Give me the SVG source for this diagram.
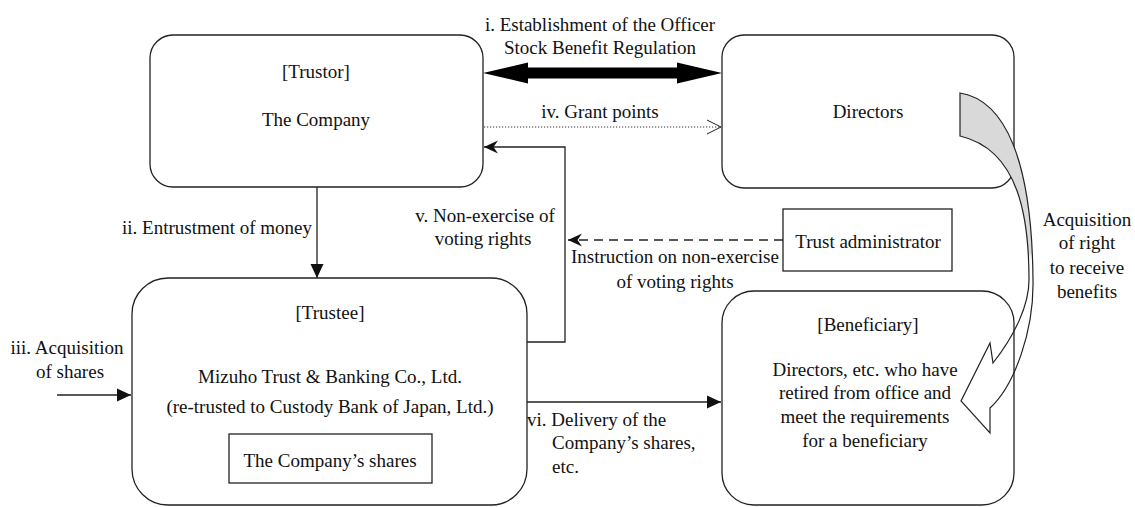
<svg xmlns="http://www.w3.org/2000/svg" width="1135" height="507" viewBox="0 0 1135 507">
<style>
text{font-family:"Liberation Serif","Times New Roman",serif;font-size:19px;fill:#111}
.box{fill:#fff;stroke:#222;stroke-width:1.3}
.ln{fill:none;stroke:#222;stroke-width:1.3}
.c{text-anchor:middle}
</style>
<defs>
<marker id="tri" markerUnits="userSpaceOnUse" markerWidth="15" markerHeight="14" refX="14" refY="7" orient="auto">
<path d="M0,0.5 L14,7 L0,13.5 Z" fill="#111"/>
</marker>
<marker id="barb" markerUnits="userSpaceOnUse" markerWidth="15" markerHeight="14" refX="14" refY="7" orient="auto">
<path d="M14,7 L0,0.5 L4.5,7 L0,13.5 Z" fill="#111"/>
</marker>
<marker id="open" markerUnits="userSpaceOnUse" markerWidth="17" markerHeight="17" refX="15" refY="8" orient="auto">
<path d="M1,1 L15,8 L1,15" fill="none" stroke="#222" stroke-width="1" stroke-dasharray="none"/>
</marker>
<linearGradient id="ribbon" gradientUnits="userSpaceOnUse" x1="0" y1="93" x2="0" y2="433">
<stop offset="0" stop-color="#d9d9d9"/>
<stop offset="0.47" stop-color="#d9d9d9"/>
<stop offset="0.5" stop-color="#ffffff" stop-opacity="0"/>
<stop offset="1" stop-color="#ffffff" stop-opacity="0"/>
</linearGradient>
</defs>

<g id="connectors">
<polygon points="483,73 528,62.5 528,67.5 677,67.5 677,62.5 722,73 677,83.5 677,78.5 528,78.5 528,83.5" fill="#000"/>
<line x1="484" y1="127" x2="721" y2="127" stroke="#333" stroke-width="1" stroke-dasharray="1.2,1.8" marker-end="url(#open)"/>
<polyline class="ln" points="527,342 565,342 565,147 484,147" marker-end="url(#barb)"/>
<line class="ln" x1="783" y1="240" x2="568" y2="240" stroke-dasharray="9,6" marker-end="url(#barb)"/>
<line class="ln" x1="317" y1="187" x2="317" y2="278" marker-end="url(#tri)"/>
<line class="ln" x1="57" y1="395" x2="131" y2="395" marker-end="url(#tri)"/>
<line class="ln" x1="527" y1="402" x2="721" y2="402" marker-end="url(#tri)"/>
</g>

<g id="trustor">
<rect class="box" x="150" y="35" width="333" height="152" rx="23"/>
<text class="c" x="316" y="78">[Trustor]</text>
<text class="c" x="316" y="126">The Company</text>
</g>

<g id="directors">
<rect class="box" x="722" y="35" width="292" height="153" rx="22"/>
<text class="c" x="868" y="118">Directors</text>
</g>

<g id="trust-administrator">
<rect class="box" x="783" y="209" width="169" height="62"/>
<text class="c" x="868" y="248">Trust administrator</text>
</g>

<g id="trustee">
<rect class="box" x="132" y="278" width="395" height="227" rx="36"/>
<text class="c" x="330" y="319">[Trustee]</text>
<text class="c" x="330" y="383">Mizuho Trust &amp; Banking Co., Ltd.</text>
<text class="c" x="330" y="413">(re-trusted to Custody Bank of Japan, Ltd.)</text>
<rect class="box" x="229" y="434" width="203" height="49"/>
<text class="c" x="330" y="467">The Company’s shares</text>
</g>

<g id="beneficiary">
<rect class="box" x="722" y="291" width="292" height="214" rx="32"/>
<text class="c" x="868" y="331">[Beneficiary]</text>
<text class="c" x="865" y="376">Directors, etc. who have</text>
<text class="c" x="865" y="399">retired from office and</text>
<text class="c" x="865" y="423">meet the requirements</text>
<text class="c" x="865" y="447">for a beneficiary</text>
</g>

<g id="acquisition-arrow">
<path d="M960,93 C1005,100 1032,160 1033,280 C1034,330 1015,385 990,408 L990,433 L961,401 L990,343 L993,363 C1015,335 1029,305 1029,280 C1029,220 1020,150 960,136 Z" fill="url(#ribbon)" stroke="#222" stroke-width="1.2" stroke-linejoin="miter"/>
</g>

<g id="labels">
<text class="c" x="600" y="31">i. Establishment of the Officer</text>
<text class="c" x="600" y="54">Stock Benefit Regulation</text>
<text class="c" x="600" y="118">iv. Grant points</text>
<text x="312" y="234" text-anchor="end">ii. Entrustment of money</text>
<text class="c" x="485" y="222">v. Non-exercise of</text>
<text class="c" x="483" y="245">voting rights</text>
<text class="c" x="675" y="263">Instruction on non-exercise</text>
<text class="c" x="675" y="288">of voting rights</text>
<text class="c" x="67" y="354">iii. Acquisition</text>
<text class="c" x="70" y="378">of shares</text>
<text x="527" y="426">vi. Delivery of the</text>
<text x="552" y="449">Company’s shares,</text>
<text x="552" y="473">etc.</text>
<text class="c" x="1087" y="226">Acquisition</text>
<text class="c" x="1087" y="249">of right</text>
<text class="c" x="1087" y="274">to receive</text>
<text class="c" x="1087" y="298">benefits</text>
</g>
</svg>
